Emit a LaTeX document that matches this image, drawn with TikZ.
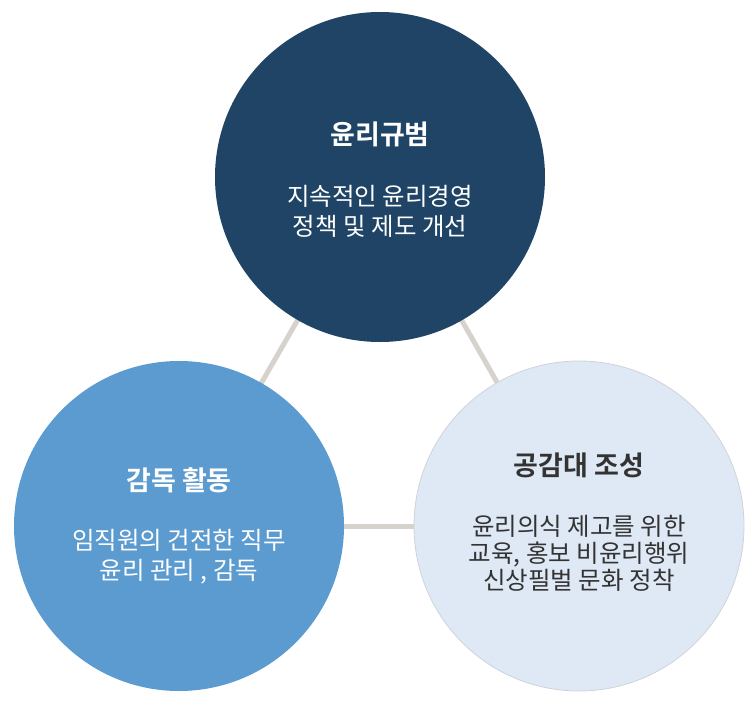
\documentclass[tikz,border=0pt]{standalone}
\usepackage{fontspec}
\setmainfont{Noto Sans CJK KR}
\newfontfamily\krbold{Noto Sans CJK KR Bold}
\definecolor{navy}{HTML}{1F4465}
\definecolor{midblue}{HTML}{5B9BCF}
\definecolor{paleblue}{HTML}{DEE9F5}
\definecolor{linkgray}{HTML}{D6D3CC}
\definecolor{rimgray}{HTML}{CFD3D8}
\definecolor{textdark}{HTML}{333333}
\tikzset{
  bubble/.style={circle, inner sep=0pt, minimum size=330pt},
  link/.style={draw=linkgray, line width=5pt},
  titletext/.style={font=\krbold\fontsize{27}{30}\selectfont, align=center, inner sep=0pt},
  bodytext/.style={font=\fontsize{24.5}{30}\selectfont, align=center, inner sep=0pt},
}
\begin{document}
\begin{tikzpicture}[x=1pt,y=1pt]
\useasboundingbox (0,0) rectangle (756,-707);
\coordinate (ct) at (380,-177);
\coordinate (cl) at (179,-526);
\coordinate (cr) at (579,-526);
\draw[link] (ct) -- (cl);
\draw[link] (ct) -- (cr);
\draw[link] (cl) -- (cr);
\node[bubble, fill=navy] (top) at (ct) {};
\node[bubble, fill=midblue] (left) at (cl) {};
\node[bubble, fill=paleblue, draw=rimgray, line width=0.8pt] (right) at (cr) {};
\node[titletext, text=white] (ttop) at (380,-134) {윤리규범};
\node[bodytext, text=white] (btop) at (380,-211) {지속적인 윤리경영\\정책 및 제도 개선};
\node[titletext, text=white] (tleft) at (179,-480) {감독 활동};
\node[bodytext, text=white] (bleft) at (179,-557) {임직원의 건전한 직무\\윤리 관리 , 감독};
\node[titletext, text=textdark] (tright) at (579,-465) {공감대 조성};
\node[bodytext, text=textdark, font=\fontsize{24.5}{27}\selectfont] (bright) at (579,-553) {윤리의식 제고를 위한\\교육, 홍보 비윤리행위\\신상필벌 문화 정착};
\end{tikzpicture}
\end{document}
